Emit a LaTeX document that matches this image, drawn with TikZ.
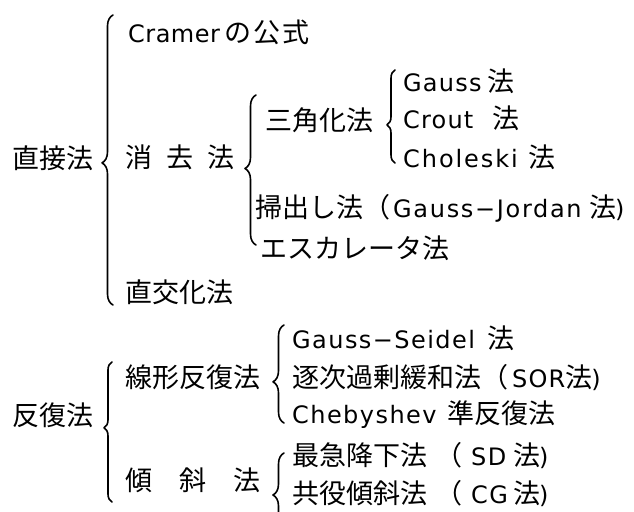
\documentclass[tikz,border=0pt]{standalone}
\usepackage{fontspec}
\setmainfont{DejaVu Sans}
\newfontfamily\jpf{Noto Sans CJK JP}
\usetikzlibrary{decorations.pathreplacing}
\newcommand{\J}[1]{{\jpf\fontsize{27pt}{30pt}\selectfont #1}}
\newcommand{\Ls}[2]{{\addfontfeature{LetterSpace=#1}#2}}
\begin{document}
\begin{tikzpicture}[x=1pt,y=-1pt,
  txt/.style={anchor=base west,inner sep=0pt,font=\fontsize{24pt}{28pt}\selectfont},
  brc/.style={decorate,line width=1.6pt,line cap=round,line join=round}]
\clip (0,0) rectangle (634,511);
\fill[white] (0,0) rectangle (634,511);

% level 0
\node[txt] (chokusetsu) at (12,168) {\J{直接法}};
\node[txt] (hanpuku) at (12,425) {\J{反復法}};

% level 1 (direct)
\node[txt] (cramer) at (128,43) {\makebox[96pt][l]{\Ls{2}{Cramer}}\J{の\hspace{2pt}公\hspace{2pt}式}};
\node[txt] (shokyo) at (125,167) {\J{消\hspace{14pt}去\hspace{14pt}法}};
\node[txt] (chokko) at (125,302) {\J{直交化法}};

% level 2 (elimination)
\node[txt] (sankaku) at (265,130) {\J{三角化法}};
\node[txt] (hakidashi) at (255,217) {\J{掃出し法（}\hspace{3pt}\makebox[196pt][l]{\Ls{7}{Gauss−Jordan}}\J{法}\hspace{-1pt})};
\node[txt] (escalator) at (260,258) {\J{エスカレータ法}};

% level 3 (triangular)
\node[txt] (gauss) at (403,92) {\makebox[84pt][l]{\Ls{5}{Gauss}}\J{法}};
\node[txt] (crout) at (403,128) {\makebox[89pt][l]{\Ls{5}{Crout}}\J{法}};
\node[txt] (choleski) at (403,167) {\makebox[125pt][l]{\Ls{8}{Choleski}}\J{法}};

% level 1 (iterative)
\node[txt] (senkei) at (125,387) {\J{線形反復法}};
\node[txt] (keisha) at (125,490) {\J{傾\hspace{27pt}斜\hspace{27pt}法}};

% level 2 (iterative)
\node[txt] (gs) at (292,348) {\makebox[195pt][l]{\Ls{6}{Gauss−Seidel}}\J{法}};
\node[txt] (sor) at (292,387) {\J{逐次過剰緩和法（}\hspace{4pt}\Ls{5}{SOR}\J{法}\hspace{-1pt})};
\node[txt] (cheb) at (292,423) {\makebox[155pt][l]{\Ls{6}{Chebyshev}}\J{準反復法}};
\node[txt] (sd) at (292,465) {\J{最急降下法}\hspace{8pt}\J{（}\hspace{9pt}\makebox[42pt][l]{\Ls{6}{SD}}\J{法}\hspace{-1pt})};
\node[txt] (cg) at (292,503) {\J{共役傾斜法}\hspace{8pt}\J{（}\hspace{9pt}\makebox[42pt][l]{\Ls{6}{CG}}\J{法}\hspace{-1pt})};

% brace end points
\coordinate (b1s) at (113,305); \coordinate (b1e) at (113,15);
\coordinate (b2s) at (256,245); \coordinate (b2e) at (256,95);
\coordinate (b3s) at (395,163); \coordinate (b3e) at (395,70);
\coordinate (b4s) at (112,502); \coordinate (b4e) at (112,362);
\coordinate (b5s) at (284,423); \coordinate (b5e) at (284,325);
\coordinate (b6s) at (284,537); \coordinate (b6e) at (284,453);

% braces
\draw[brc,decoration={brace,amplitude=11pt,aspect=0.49}] (b1s) -- (b1e);
\draw[brc,decoration={brace,amplitude=11pt,aspect=0.51}] (b2s) -- (b2e);
\draw[brc,decoration={brace,amplitude=8pt,aspect=0.41}] (b3s) -- (b3e);
\draw[brc,decoration={brace,amplitude=8pt,aspect=0.53}] (b4s) -- (b4e);
\draw[brc,decoration={brace,amplitude=11pt,aspect=0.42}] (b5s) -- (b5e);
\draw[brc,decoration={brace,amplitude=11pt,aspect=0.5}] (b6s) -- (b6e);
\end{tikzpicture}
\end{document}
